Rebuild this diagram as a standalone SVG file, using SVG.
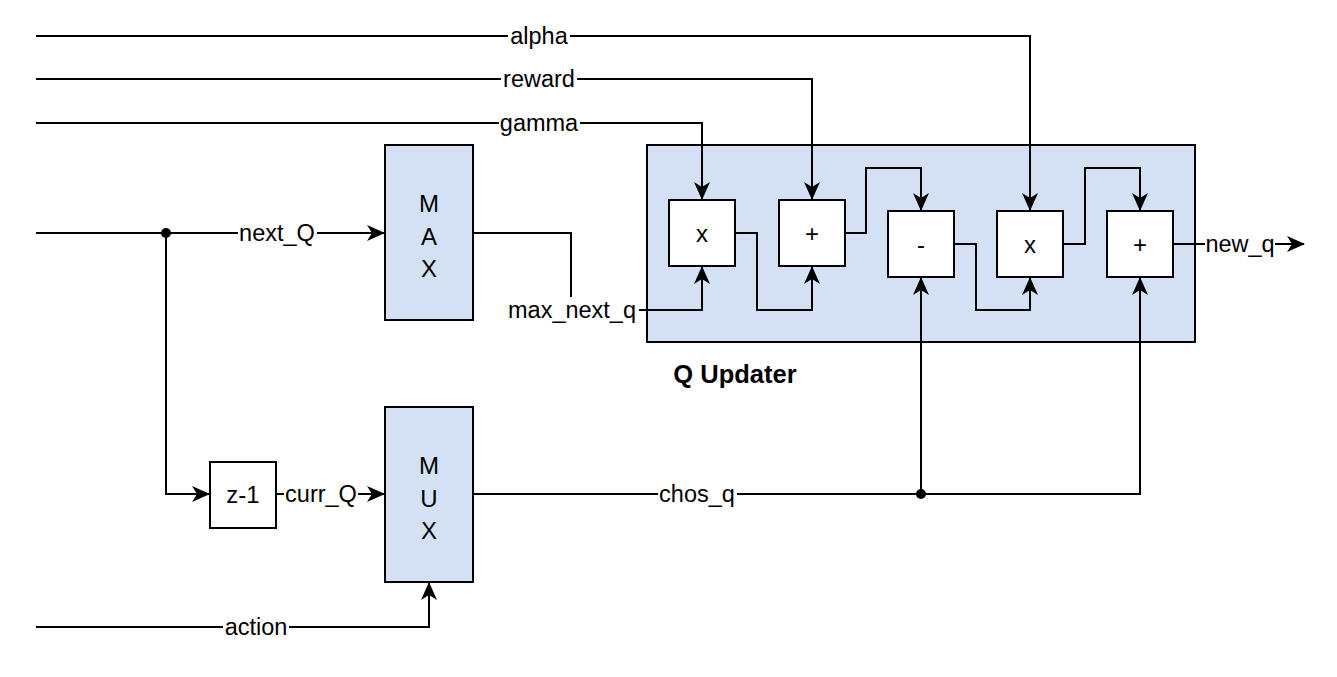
<svg xmlns="http://www.w3.org/2000/svg" width="1337" height="677" viewBox="0 0 1337 677">
<style>
.blk{fill:#D4E1F5;stroke:#000;stroke-width:2}
.op{fill:#fff;stroke:#000;stroke-width:2}
.w{fill:none;stroke:#000;stroke-width:2}
text{font-family:"Liberation Sans",Arial,sans-serif;font-size:23.5px;fill:#000}
.c{text-anchor:middle}
.lb{fill:#fff;stroke:none}
.bt{font-size:24px}
</style>
<defs>
<marker id="arr" viewBox="0 0 18 16" refX="17" refY="8" markerWidth="18" markerHeight="16" markerUnits="userSpaceOnUse" orient="auto">
<path d="M0,0 L18,8 L0,16 L5,8 z" fill="#000"/>
</marker>
</defs>
<rect width="1337" height="677" fill="#fff"/>
<g id="q-updater">
<rect class="blk" x="647" y="145" width="548" height="197"/>
<text x="735" y="383" class="c" style="font-weight:bold;font-size:25.5px">Q Updater</text>
</g>
<g id="max">
<rect class="blk" x="385" y="145" width="88" height="175"/>
<text x="429" y="212" class="c bt">M</text>
<text x="429" y="245" class="c bt">A</text>
<text x="429" y="277" class="c bt">X</text>
</g>
<g id="mux">
<rect class="blk" x="385" y="407" width="88" height="175"/>
<text x="429" y="474" class="c bt">M</text>
<text x="429" y="507" class="c bt">U</text>
<text x="429" y="539" class="c bt">X</text>
</g>
<g id="z1">
<rect class="op" x="210" y="462" width="66" height="66"/>
<text x="243" y="503" class="c bt">z-1</text>
</g>
<g id="mul1"><rect class="op" x="669" y="200" width="66" height="66"/><text x="702" y="242" class="c bt">x</text></g>
<g id="add1"><rect class="op" x="779" y="200" width="66" height="66"/><text x="812" y="242" class="c bt">+</text></g>
<g id="sub"><rect class="op" x="888" y="211" width="66" height="66"/><text x="921" y="253" class="c bt">-</text></g>
<g id="mul2"><rect class="op" x="997" y="211" width="66" height="66"/><text x="1030" y="253" class="c bt">x</text></g>
<g id="add2"><rect class="op" x="1107" y="211" width="66" height="66"/><text x="1140" y="253" class="c bt">+</text></g>
<g id="connectors">
<path class="w" d="M36,36 H1030 V210" marker-end="url(#arr)"/>
<path class="w" d="M36,79 H812 V199" marker-end="url(#arr)"/>
<path class="w" d="M36,123 H702 V199" marker-end="url(#arr)"/>
<path class="w" d="M36,233 H384" marker-end="url(#arr)"/>
<path class="w" d="M166,233 V494 H209" marker-end="url(#arr)"/>
<path class="w" d="M276,494 H384" marker-end="url(#arr)"/>
<path class="w" d="M36,627 H429 V583" marker-end="url(#arr)"/>
<path class="w" d="M473,233 H571 V310 H702 V267" marker-end="url(#arr)"/>
<path class="w" d="M735,233 H757 V310 H812 V267" marker-end="url(#arr)"/>
<path class="w" d="M845,233 H866 V168 H921 V210" marker-end="url(#arr)"/>
<path class="w" d="M954,244 H976 V310 H1030 V278" marker-end="url(#arr)"/>
<path class="w" d="M1063,244 H1085 V168 H1140 V210" marker-end="url(#arr)"/>
<path class="w" d="M1173,244 H1304" marker-end="url(#arr)"/>
<path class="w" d="M473,494 H1140 V278" marker-end="url(#arr)"/>
<path class="w" d="M921,494 V278" marker-end="url(#arr)"/>
<circle cx="166" cy="233" r="5" fill="#000"/>
<circle cx="921" cy="494" r="5" fill="#000"/>
<rect class="lb" x="508" y="24" width="62" height="24"/><text x="539" y="44" class="c">alpha</text>
<rect class="lb" x="501" y="67" width="76" height="24"/><text x="539" y="87" class="c">reward</text>
<rect class="lb" x="499" y="111" width="81" height="24"/><text x="539" y="131" class="c">gamma</text>
<rect class="lb" x="238" y="221" width="79" height="24"/><text x="277" y="241" class="c">next_Q</text>
<rect class="lb" x="506" y="297" width="133" height="26"/><text x="572" y="318" class="c">max_next_q</text>
<rect class="lb" x="284" y="482" width="74" height="24"/><text x="321" y="502" class="c">curr_Q</text>
<rect class="lb" x="658" y="482" width="79" height="24"/><text x="697" y="502" class="c">chos_q</text>
<rect class="lb" x="223" y="615" width="66" height="24"/><text x="256" y="635" class="c">action</text>
<rect class="lb" x="1205" y="232" width="70" height="24"/><text x="1240" y="252" class="c">new_q</text>
</g>
</svg>
